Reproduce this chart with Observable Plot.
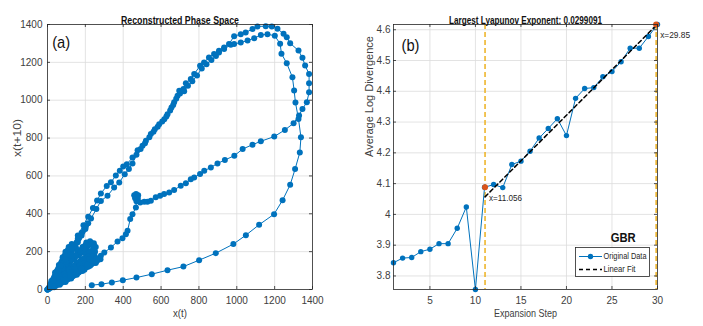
<!DOCTYPE html>
<html><head><meta charset="utf-8">
<script src="https://cdn.jsdelivr.net/npm/d3@7"></script>
<script src="https://cdn.jsdelivr.net/npm/@observablehq/plot@0.6"></script>
<style>
body{margin:0;background:#fff;}
#wrap{position:relative;width:703px;height:326px;overflow:hidden;background:#fff;}
#wrap svg{position:absolute;top:0;}
</style></head><body><div id="wrap"></div>
<script>
// ---------- Panel (a): reconstructed phase space, x(t) vs x(t+10) ----------
const phaseTicks = [0, 200, 400, 600, 800, 1000, 1200, 1400];
// outer branch: upper line -> outer top loop -> middle line -> knot -> back to origin
const phaseSeg1 = [[0,0],[20,36],[45,80],[70,125],[100,178],[130,232],[160,285],[190,340],[215,385],[240,430],[262,470],[282,507],[313,547],[335,566],[361,602],[382,627],[400,650],[419,662],[449,697],[476,736],[502,759],[520,786],[546,821],[567,847],[590,873],[617,899],[634,926],[655,961],[669,989],[687,1024],[696,1050],[718,1059],[731,1089],[757,1112],[775,1138],[806,1182],[827,1199],[853,1226],[880,1244],[906,1261],[933,1279],[959,1297],[986,1338],[1021,1349],[1047,1358],[1083,1376],[1109,1390],[1153,1391],[1185,1389],[1215,1377],[1247,1351],[1264,1333],[1282,1301],[1326,1262],[1347,1224],[1361,1183],[1382,1139],[1382,1090],[1382,1042],[1370,989],[1347,954],[1329,919],[1300,878],[1254,843],[1198,808],[1127,783],[1083,765],[1031,742],[987,707],[937,684],[898,666],[863,645],[828,627],[806,610],[775,592],[757,583],[731,561],[704,548],[669,526],[643,513],[616,504],[595,495],[572,487],[546,469],[528,464],[511,464],[490,460],[475,468],[463,482],[458,498],[468,505],[479,498],[477,482],[470,466],[467,433],[449,398],[437,372],[423,310],[414,292],[396,271],[370,254],[335,222],[300,195],[282,178],[260,165],[238,151],[210,132],[180,112],[150,92],[120,72],[90,52],[60,34],[30,16],[8,4]];
// inner branch: parallel upper line -> inner top loop -> inner right arc -> sparse bottom return
const phaseSeg2 = [[5,5],[30,48],[60,100],[95,160],[130,215],[165,270],[200,325],[230,375],[258,425],[282,468],[317,495],[352,539],[379,565],[408,609],[430,636],[449,666],[470,712],[492,742],[515,772],[538,805],[560,833],[582,860],[606,888],[628,914],[648,946],[664,975],[680,1008],[700,1036],[722,1048],[742,1076],[765,1100],[790,1130],[815,1168],[840,1190],[866,1213],[890,1234],[906,1252],[933,1270],[968,1293],[986,1297],[1021,1305],[1057,1315],[1092,1328],[1127,1344],[1162,1349],[1201,1340],[1229,1298],[1236,1246],[1264,1195],[1294,1121],[1303,1051],[1310,988],[1326,901],[1339,804],[1333,724],[1308,636],[1282,553],[1242,472],[1197,398],[1118,342],[1048,287],[982,240],[889,192],[801,155],[718,121],[634,102],[551,81],[470,63],[398,49],[340,37],[285,28],[234,23]];
// dense fan of small excursions near the origin
const phaseSeg3 = [[0,0],[15,28],[32,55],[50,85],[68,118],[85,148],[102,178],[118,208],[135,235],[150,222],[165,205],[145,180],[125,155],[105,130],[85,105],[65,80],[45,55],[25,30],[8,10],[30,30],[55,52],[80,75],[105,98],[130,120],[155,140],[180,160],[205,178],[230,190],[250,200],[248,180],[230,165],[205,150],[180,135],[155,120],[130,102],[105,85],[80,65],[55,45],[30,25],[10,8],[35,20],[60,35],[90,52],[120,70],[150,90],[180,108],[210,128],[240,150],[262,160],[245,145],[215,120],[185,98],[155,78],[125,58],[95,40],[65,25],[35,12],[5,3],[30,40],[60,80],[95,125],[130,165],[160,200],[185,225],[205,248],[225,255],[245,245],[255,225],[250,200],[235,185],[215,190],[208,210],[215,232],[232,238],[242,222],[235,205],[215,198],[190,195],[165,180],[140,160],[110,130],[80,95],[50,60],[20,25],[0,0],[25,45],[50,95],[75,140],[95,175],[115,210],[128,240],[112,225],[95,200],[80,170],[60,130],[40,90],[20,45],[45,75],[70,100],[100,135],[125,160],[150,180],[175,200],[195,215],[205,235]];
const phaseSeg4 = [[0,0],[20,30],[40,62],[60,95],[80,130],[100,165],[120,200],[140,235],[160,268],[180,300],[200,330],[215,350],[200,320],[180,285],[160,250],[140,215],[120,180],[100,145],[80,110],[60,75],[40,45],[20,20],[40,35],[65,55],[90,80],[115,105],[140,125],[165,145],[190,160],[215,175],[240,175],[220,160],[195,140],[170,125],[145,108],[120,90],[95,70],[70,50],[45,30],[20,14],[45,20],[75,38],[105,55],[135,72],[165,90],[195,105],[225,125],[255,140],[280,160],[260,150],[230,132],[200,115],[170,98],[140,80],[110,63],[80,45],[50,28],[20,10]];

// ---------- Panel (b): largest Lyapunov exponent ----------
const steps = [1,2,3,4,5,6,7,8,9,10,11,12,13,14,15,16,17,18,19,20,21,22,23,24,25,26,27,28,29,30];
const logDiv = [3.843,3.858,3.860,3.879,3.887,3.905,3.905,3.955,4.024,3.756,4.088,4.097,4.087,4.162,4.173,4.205,4.248,4.279,4.311,4.256,4.377,4.409,4.412,4.447,4.464,4.496,4.540,4.540,4.578,4.617];
const fitX = [11.056, 29.85];
const fitY = [4.057, 4.614];
const markX = [11.056, 29.85];
const markY = [4.088, 4.617];
const markLabels = ["x=11.056", "x=29.85"];
const stepTicks = [5, 10, 15, 20, 25, 30];
const divTicks = [3.8, 3.9, 4, 4.1, 4.2, 4.3, 4.4, 4.5, 4.6];
const titleA = "Reconstructed Phase Space";
const titleB = "Largest Lyapunov Exponent: 0.0299091";
const legendLabels = ["Original Data", "Linear Fit"];

const BLUE = "#0072BD", ORANGE = "#D95319", GOLD = "#EDB120", INK = "#262626", GREY = "#404040";
const FONT = '"Liberation Sans",Arial,Helvetica,sans-serif';
// rendered text widths (px) of the reference's narrow Helvetica
const textWidths = {
  "Reconstructed Phase Space": 118, "Largest Lyapunov Exponent: 0.0299091": 153,
  "x(t)": 14, "Expansion Step": 63, "x(t+10)": 38, "(a)": 18, "(b)": 18, "GBR": 25,
  "Original Data": 43, "Linear Fit": 32, "x=11.056": 33, "x=29.85": 30
};

const phase = [], fan = [];
[phaseSeg1, phaseSeg2].forEach((s, k) => s.forEach(([x, y]) => phase.push({x, y, seg: k})));
[phaseSeg3, phaseSeg4].forEach((s, k) => s.forEach(([x, y]) => fan.push({x, y, seg: k})));
const lyap = steps.map((s, i) => ({s, v: logDiv[i]}));
const fit = fitX.map((x, i) => ({x, y: fitY[i]}));
const marks = markX.map((x, i) => ({x, y: markY[i], t: markLabels[i]}));

const H = 326, MT = 24, MB = 37, FH = H - MT - MB;
const style = {fontFamily: FONT, fontSize: "10px", color: INK, background: "transparent", overflow: "visible"};
const fmt = d => String(d);
const grid = {stroke: "#dcdcdc", strokeOpacity: 1, strokeWidth: 0.8};

function frameTicks(xt, yt, FW) {
  const o = {stroke: INK, strokeWidth: 0.8};
  return [
    Plot.ruleX(xt, {x: d => d, insetTop: FH - 3, ...o}),
    Plot.ruleX(xt, {x: d => d, insetBottom: FH - 3, ...o}),
    Plot.ruleY(yt, {y: d => d, insetRight: FW - 3, ...o}),
    Plot.ruleY(yt, {y: d => d, insetLeft: FW - 3, ...o}),
    Plot.frame({stroke: INK, strokeWidth: 0.8})
  ];
}

// Left panel
const W1 = 351, ML1 = 47, MR1 = 39, FW1 = W1 - ML1 - MR1;
const left = Plot.plot({
  width: W1, height: H, marginLeft: ML1, marginRight: MR1, marginTop: MT, marginBottom: MB,
  x: {domain: [0, 1400]}, y: {domain: [0, 1400]},
  style,
  marks: [
    Plot.gridX(phaseTicks.slice(1, -1), grid),
    Plot.gridY(phaseTicks.slice(1, -1), grid),
    Plot.line(fan, {x: "x", y: "y", z: "seg", stroke: BLUE, strokeWidth: 4, strokeLinejoin: "round"}),
    Plot.dot(fan, {x: "x", y: "y", r: 3, fill: BLUE}),
    Plot.line(phase, {x: "x", y: "y", z: "seg", stroke: BLUE, strokeWidth: 1}),
    Plot.dot(phase, {x: "x", y: "y", r: 3, fill: BLUE}),
    ...frameTicks(phaseTicks, phaseTicks, FW1),
    Plot.axisX(phaseTicks, {tickSize: 0, tickPadding: 7, label: null, tickFormat: fmt, fill: GREY}),
    Plot.axisY(phaseTicks, {tickSize: 0, tickPadding: 5, label: null, tickFormat: fmt, fill: GREY}),
    Plot.text([titleA], {text: d => d, frameAnchor: "top", dy: -9, fontWeight: "bold", fontSize: 11.5, fill: "#111"}),
    Plot.text(["x(t)"], {text: d => d, frameAnchor: "bottom", dy: 27, fontSize: 10.5, fill: GREY}),
    Plot.text(["x(t+10)"], {text: d => d, frameAnchor: "left", dx: -30, rotate: -90, fontSize: 11, fill: GREY}),
    Plot.text(["(a)"], {text: d => d, frameAnchor: "top-left", dx: 4.7, dy: 11.5, lineAnchor: "top", fontSize: 17, fill: "#111"})
  ]
});
left.style.left = "0px";

// Right panel
const W2 = 352, ML2 = 42, MR2 = 46, FW2 = W2 - ML2 - MR2;
const right = Plot.plot({
  width: W2, height: H, marginLeft: ML2, marginRight: MR2, marginTop: MT, marginBottom: MB,
  x: {domain: [1, 30]}, y: {domain: d3.extent(logDiv)},
  style,
  marks: [
    Plot.gridX(stepTicks.slice(0, -1), grid),
    Plot.gridY(divTicks, grid),
    Plot.ruleX(markX, {x: d => d, stroke: GOLD, strokeWidth: 1.5, strokeDasharray: "5,3"}),
    Plot.line(lyap, {x: "s", y: "v", stroke: BLUE, strokeWidth: 1}),
    Plot.dot(lyap, {x: "s", y: "v", r: 2.7, fill: BLUE}),
    Plot.line(fit, {x: "x", y: "y", stroke: "#000", strokeWidth: 1.5, strokeDasharray: "4,3"}),
    Plot.dot(marks, {x: "x", y: "y", r: 3, fill: ORANGE}),
    Plot.text(marks, {x: "x", y: "y", text: "t", dx: 4, dy: 10.5, textAnchor: "start", fontSize: 9.5, fill: INK}),
    ...frameTicks(stepTicks, divTicks, FW2),
    Plot.axisX(stepTicks, {tickSize: 0, tickPadding: 7, label: null, tickFormat: fmt, fill: GREY}),
    Plot.axisY(divTicks, {tickSize: 0, tickPadding: 3, label: null, tickFormat: fmt, fill: GREY}),
    Plot.text([titleB], {text: d => d, frameAnchor: "top", dy: -9, fontWeight: "bold", fontSize: 11.5, fill: "#111"}),
    Plot.text(["Expansion Step"], {text: d => d, frameAnchor: "bottom", dy: 27, fontSize: 10.5, fill: GREY}),
    Plot.text(["Average Log Divergence"], {text: d => d, frameAnchor: "left", dx: -24, rotate: -90, fontSize: 11, fill: GREY}),
    Plot.text(["(b)"], {text: d => d, frameAnchor: "top-left", dx: 8, dy: 14.5, lineAnchor: "top", fontSize: 17, fill: "#111"}),
    Plot.text(["GBR"], {text: d => d, frameAnchor: "top-left", dx: 229.7, dy: 208, textAnchor: "middle", fontSize: 13.5, fontWeight: "bold", fill: "#111"})
  ]
});
right.style.left = "351px";

// legend (pixel layout inside the right panel)
const lg = d3.select(right).append("g").attr("font-family", FONT).attr("font-size", 9).attr("text-anchor", "start");
lg.append("rect").attr("x", 224.5).attr("y", 247.5).attr("width", 74).attr("height", 29).attr("fill", "#fff").attr("stroke", INK).attr("stroke-width", 0.8);
lg.append("line").attr("x1", 228).attr("x2", 251).attr("y1", 256.5).attr("y2", 256.5).attr("stroke", BLUE).attr("stroke-width", 1);
lg.append("circle").attr("cx", 239.5).attr("cy", 256.5).attr("r", 2.7).attr("fill", BLUE);
lg.append("line").attr("x1", 228).attr("x2", 251).attr("y1", 269.5).attr("y2", 269.5).attr("stroke", "#000").attr("stroke-width", 1.5).attr("stroke-dasharray", "4,3");
lg.selectAll("text.l").data(legendLabels).join("text").attr("x", 252.5).attr("y", (d, i) => 256.5 + i * 13).attr("dy", "0.32em").attr("text-anchor", "start").attr("fill", INK).text(d => d);

const wrap = document.getElementById("wrap");
wrap.append(left, right);
for (const svg of [left, right]) {
  svg.querySelectorAll("text").forEach(t => {
    const w = textWidths[t.textContent];
    if (w) { t.setAttribute("textLength", w); t.setAttribute("lengthAdjust", "spacingAndGlyphs"); }
  });
}
</script></body></html>
